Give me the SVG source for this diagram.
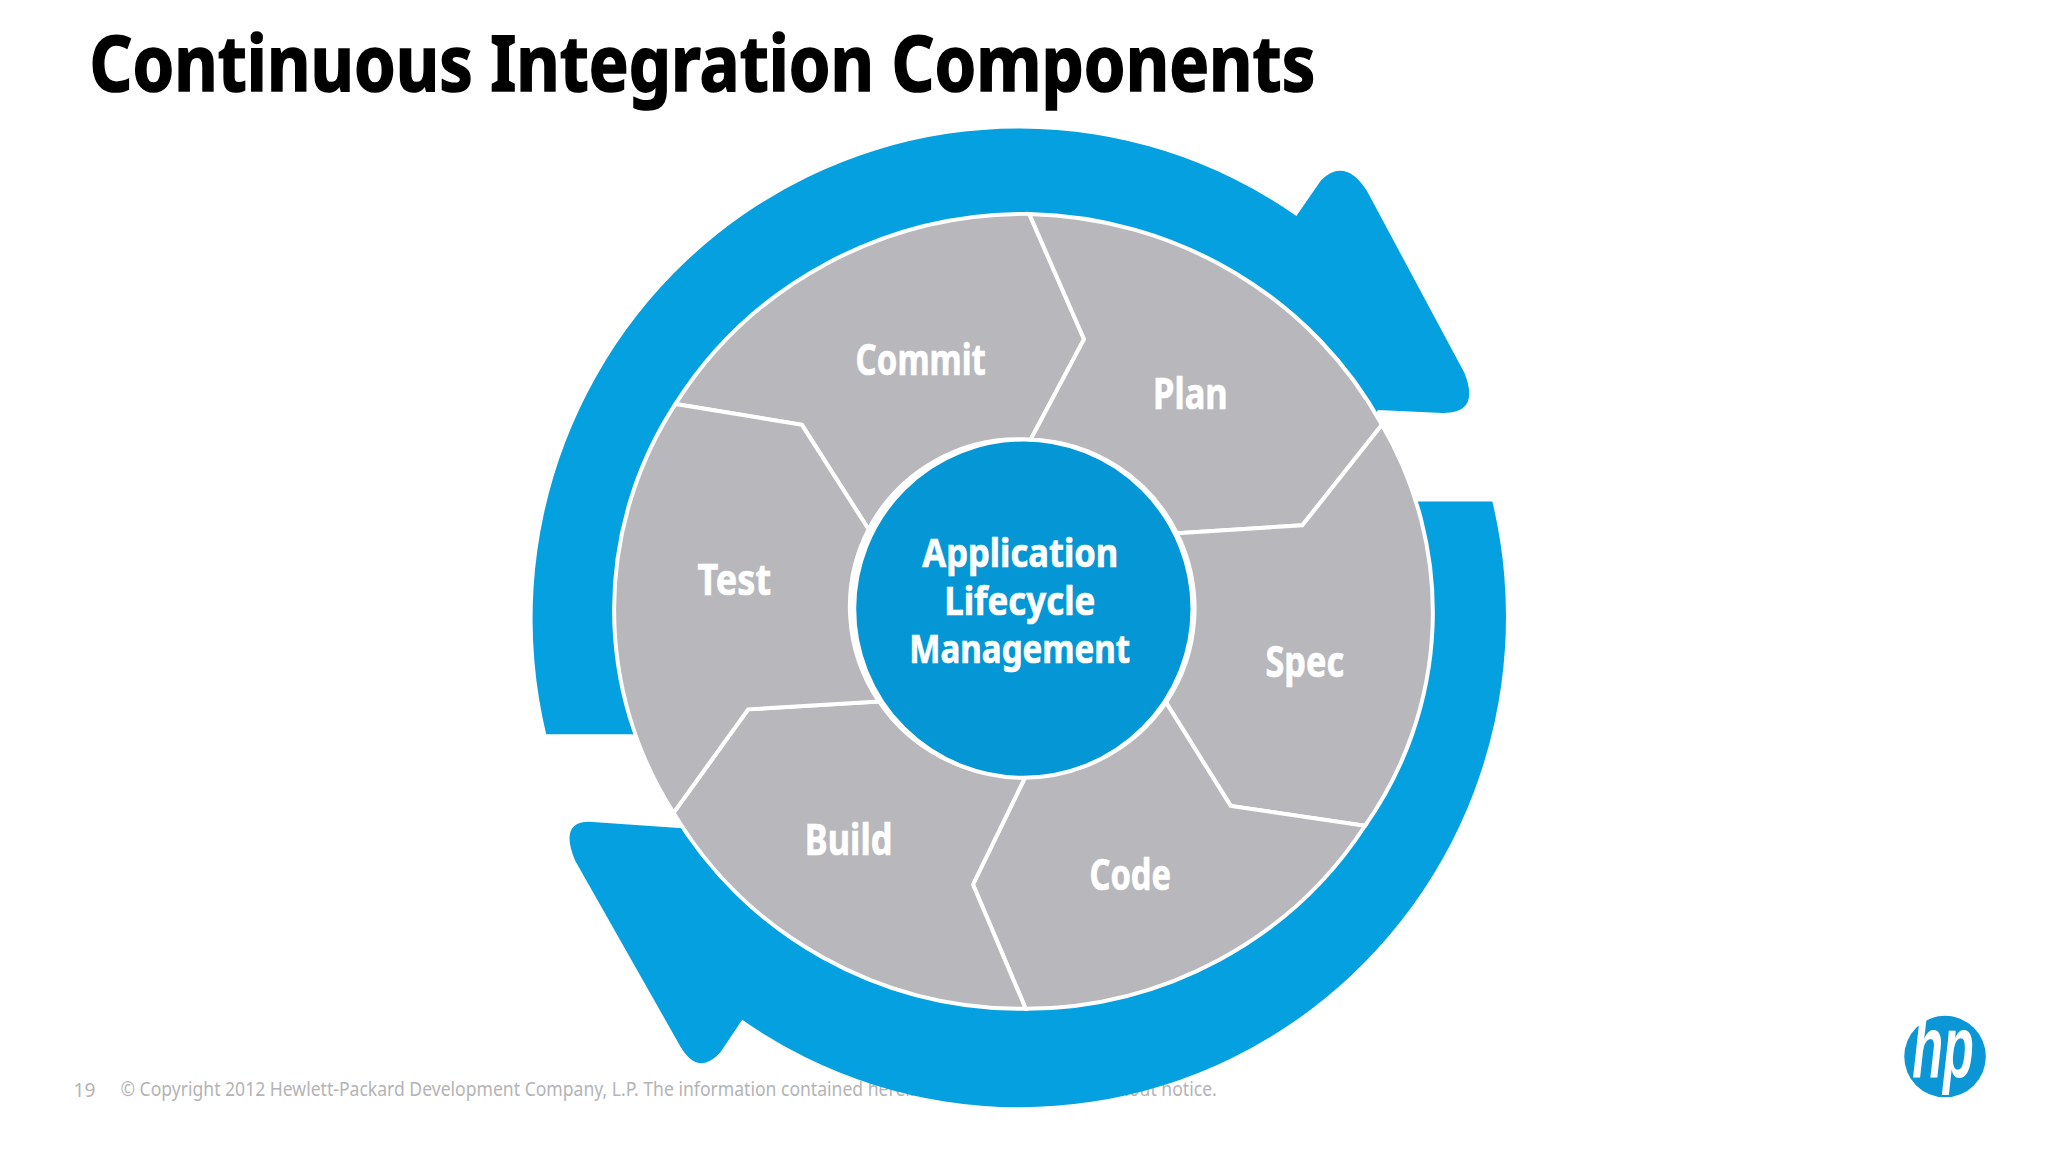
<svg xmlns="http://www.w3.org/2000/svg" width="2048" height="1152" viewBox="0 0 2048 1152">
<style>
.seg{fill:#b8b7bb;stroke:#fff;stroke-width:4;stroke-linejoin:miter}
.lbl{font-family:"Noto Sans","Open Sans",sans-serif;font-weight:700;fill:#fff;stroke:#fff;stroke-width:.7;font-size:43px}
.mid{font-size:40px}
.ring{fill:#05a0df}
</style>
<rect width="2048" height="1152" fill="#fff"/>
<g transform="scale(0.9949)">
<text id="title" x="90" y="91" font-family="'Noto Sans',sans-serif" font-weight="700" font-size="78" fill="#000" stroke="#000" stroke-width="1.6" textLength="1232" lengthAdjust="spacingAndGlyphs">Continuous Integration Components</text>
<g id="footer" font-family="'Noto Sans',sans-serif" font-size="20" fill="#b4b4b6" style="white-space:pre">
<text x="74" y="1103" textLength="22" lengthAdjust="spacingAndGlyphs">19</text>
<text x="121" y="1102" textLength="1102" lengthAdjust="spacingAndGlyphs">© Copyright 2012 Hewlett-Packard Development Company, L.P.  The information contained herein is subject to change without notice.</text>
</g>
<g id="connectors">
<path class="ring" d="M549,738 A489,493 0 0 1 1303,217 L1328,181 Q1352,158 1374,192 L1472,375 Q1488,416 1450,415 L1385,412 L1350,470 L1029,300 L700,738 Z"/>
<path class="ring" d="M1500,504 A489,493 0 0 1 746,1025 L724,1058 Q702,1082 684,1052 L578,865 Q562,826 592,826 L679,832 L730,836 L1029,900 L1350,504 Z"/>
</g>
<g id="commit"><path class="seg" d="M679,406 A412,400 0 0 1 1034.5,215 L1089.6,341 L1035.8,442 A170,170 0 0 0 873,532 L806,427 Z"/><text class="lbl" x="860" y="377" textLength="131" lengthAdjust="spacingAndGlyphs">Commit</text></g>
<g id="plan"><path class="seg" d="M1034.5,215 A412,400 0 0 1 1389,427 L1309,528 L1183,536 A170,170 0 0 0 1035.8,442 L1089.6,341 Z"/><text class="lbl" x="1159" y="411" textLength="75" lengthAdjust="spacingAndGlyphs">Plan</text></g>
<g id="spec"><path class="seg" d="M1389,427 A372,372 0 0 1 1372,830 L1237,810 L1172,706 A170,170 0 0 0 1183,536 L1309,528 Z"/><text class="lbl" x="1272" y="680" textLength="79" lengthAdjust="spacingAndGlyphs">Spec</text></g>
<g id="code"><path class="seg" d="M1372,830 A405,395 0 0 1 1031,1014 L978,889 L1031,780 A170,170 0 0 0 1172,706 L1237,810 Z"/><text class="lbl" x="1095" y="895" textLength="82" lengthAdjust="spacingAndGlyphs">Code</text></g>
<g id="build"><path class="seg" d="M1031,1014 A405,395 0 0 1 677,817 L752,713 L883.5,705 A170,170 0 0 0 1031,780 L978,889 Z"/><text class="lbl" x="809" y="859" textLength="88" lengthAdjust="spacingAndGlyphs">Build</text></g>
<g id="test"><path class="seg" d="M677,817 A378,378 0 0 1 679,406 L806,427 L873,532 A170,170 0 0 0 883.5,705 L752,713 Z"/><text class="lbl" x="701" y="598" textLength="74" lengthAdjust="spacingAndGlyphs">Test</text></g>
<g id="center">
<circle cx="1028.6" cy="611.8" r="170" fill="#0596d6" stroke="#fff" stroke-width="4"/>
<text class="lbl mid" x="927" y="570" textLength="197" lengthAdjust="spacingAndGlyphs">Application</text>
<text class="lbl mid" x="949" y="618" textLength="152" lengthAdjust="spacingAndGlyphs">Lifecycle</text>
<text class="lbl mid" x="914" y="666" textLength="222" lengthAdjust="spacingAndGlyphs">Management</text>
</g>
<g id="hp-logo">
<circle cx="1955" cy="1062" r="41" fill="#0b96d6"/>
<text x="1922" y="1083" font-family="'Liberation Sans',sans-serif" font-weight="700" font-style="italic" font-size="88" fill="#fff" textLength="62" lengthAdjust="spacingAndGlyphs">hp</text>
</g>
</g>
</svg>
